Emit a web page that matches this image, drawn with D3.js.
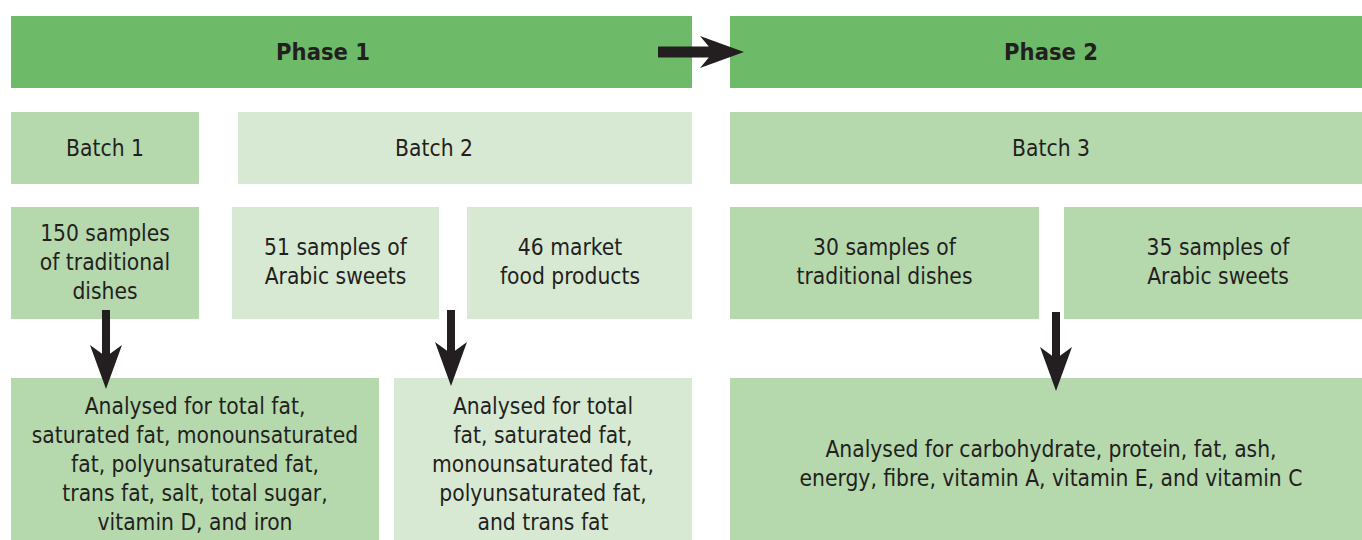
<!DOCTYPE html>
<html>
<head>
<meta charset="utf-8">
<script src="https://cdn.jsdelivr.net/npm/d3@7"></script>
<style>
  body { margin: 0; background: #fff; }
  text { font-family: "DejaVu Sans Condensed", "DejaVu Sans", sans-serif; fill: #231f20; }
</style>
</head>
<body>
<svg width="1362" height="540"></svg>
<script>
// labels, row by row
const phases = ["Phase 1", "Phase 2"];
const batches = ["Batch 1", "Batch 2", "Batch 3"];
const samples = [
  "150 samples\nof traditional\ndishes",
  "51 samples of\nArabic sweets",
  "46 market\nfood products",
  "30 samples of\ntraditional dishes",
  "35 samples of\nArabic sweets"
];
const analyses = [
  "Analysed for total fat,\nsaturated fat, monounsaturated\nfat, polyunsaturated fat,\ntrans fat, salt, total sugar,\nvitamin D, and iron",
  "Analysed for total\nfat, saturated fat,\nmonounsaturated fat,\npolyunsaturated fat,\nand trans fat",
  "Analysed for carbohydrate, protein, fat, ash,\nenergy, fibre, vitamin A, vitamin E, and vitamin C"
];

// layout (pixel edges, text centre) kept apart from the labels
const DARK = "#6dba69", MID = "#b5d8ad", LIGHT = "#d7e9d2";
const rows = [
  { y0: 16, y1: 88, size: 23.5, bold: true, dy: 0,
    cells: [[11, 692, DARK, 323], [730, 1372, DARK]], labels: phases },
  { y0: 112, y1: 184, size: 22.6, dy: 0,
    cells: [[11, 199, MID], [238, 692, LIGHT, 434], [730, 1372, MID]], labels: batches },
  { y0: 207, y1: 319, size: 22.6, dy: -1,
    cells: [[11, 199, MID], [232, 439, LIGHT], [467, 692, LIGHT, 570], [730, 1039, MID], [1064, 1372, MID]], labels: samples },
  { y0: 378, y1: 540, size: 22.6, dy: 5,
    cells: [[11, 379, MID], [394, 692, LIGHT], [730, 1372, MID]], labels: analyses }
];
const lineH = 29;

const svg = d3.select("svg");

rows.forEach(r => {
  const g = svg.append("g");
  const cells = r.cells.map((c, i) => ({
    x0: c[0], x1: c[1], fill: c[2], cx: c[3] != null ? c[3] : (c[0] + c[1]) / 2, label: r.labels[i]
  }));
  g.selectAll("rect").data(cells).enter().append("rect")
    .attr("x", d => d.x0).attr("y", r.y0)
    .attr("width", d => d.x1 - d.x0).attr("height", r.y1 - r.y0)
    .attr("fill", d => d.fill);

  const t = g.selectAll("text").data(cells).enter().append("text")
    .attr("text-anchor", "middle")
    .style("font-size", r.size + "px")
    .style("font-weight", r.bold ? "bold" : "normal");
  t.each(function(d) {
    const lines = d.label.split("\n");
    const cy = (r.y0 + r.y1) / 2 + r.dy;
    d3.select(this).selectAll("tspan").data(lines).enter().append("tspan")
      .attr("x", d.cx)
      .attr("y", (l, i) => cy + (i - (lines.length - 1) / 2) * lineH)
      .attr("dy", "0.35em")
      .text(l => l);
  });
});

// arrows
function arrow(x1, y1, x2, y2, shaft, headL, headW) {
  const ang = Math.atan2(y2 - y1, x2 - x1);
  const len = Math.hypot(x2 - x1, y2 - y1);
  const notch = headL * 0.8;
  const pts = [
    [0, -shaft / 2], [len - notch, -shaft / 2], [len - headL, -headW / 2],
    [len, 0], [len - headL, headW / 2], [len - notch, shaft / 2], [0, shaft / 2]
  ];
  svg.append("path")
    .attr("d", d3.line()(pts) + "Z")
    .attr("fill", "#231f20")
    .attr("transform", `translate(${x1},${y1}) rotate(${ang * 180 / Math.PI})`);
}
arrow(658, 52, 744, 52, 11, 44, 32);
arrow(106, 310, 106, 389, 8, 44, 32);
arrow(451, 310, 451, 386, 8, 44, 32);
arrow(1056, 312, 1056, 391, 8, 44, 32);
</script>
</body>
</html>
